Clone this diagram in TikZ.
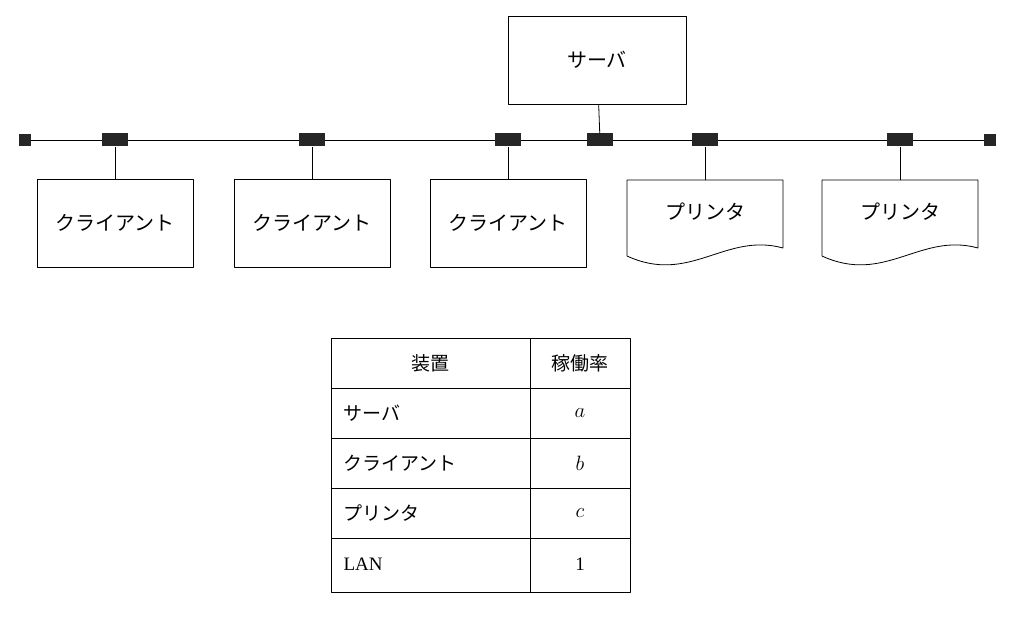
\documentclass[tikz,border=0pt]{standalone}
\usepackage{fontspec}
\setmainfont{Liberation Serif}
\newfontfamily\jp{Noto Sans CJK JP}
\begin{document}
\begin{tikzpicture}[x=1pt,y=-1pt,line join=bevel,
  box/.style={draw,thick,minimum width=156pt,minimum height=88pt,font=\jp\fontsize{20}{24}\selectfont},
  jack/.style={fill=black!85,minimum width=26pt,minimum height=13pt,inner sep=0pt},
  stub/.style={fill=black!85,minimum width=12pt,minimum height=12pt,inner sep=0pt},
  cell/.style={font=\jp\fontsize{19}{23}\selectfont}]
\useasboundingbox (0,0) rectangle (1021,623);
%% server and bus
\node (srv) at (597,60) [box,minimum width=178pt] {サーバ};
\node (endL) at (25,140) [stub] {};
\node (endR) at (990,140) [stub] {};
\draw [thick] (endL) -- (endR);
\foreach \n/\x in {j1/115,j2/312,j3/508,j4/600,j5/705,j6/900}
  \node (\n) at (\x,140) [jack] {};
\draw [thick] (srv) -- (j4);
%% clients
\node (c1) at (115,223) [box] {クライアント};
\node (c2) at (312,223) [box] {クライアント};
\node (c3) at (508,223) [box] {クライアント};
\foreach \j/\c in {j1/c1,j2/c2,j3/c3}
  \draw [thick] (\j) -- (\c);
%% printers
\foreach \n/\x in {p1/705,p2/900}{
  \coordinate (\n) at (\x,180);
  \draw [thick] (\x-78,180) -- (\x+78,180) -- (\x+78,248)
    .. controls (\x+20,232) and (\x-15,285) .. (\x-78,256) -- cycle;
  \node at (\x,212) [cell,font=\jp\fontsize{20}{24}\selectfont] {プリンタ};
}
\draw [thick] (j5) -- (p1);
\draw [thick] (j6) -- (p2);
%% table
\draw [thick] (331,338) rectangle (630,592);
\draw [thick] (530,338) -- (530,592);
\foreach \y in {388,438,488,538}
  \draw [thick] (331,\y) -- (630,\y);
\node (h1) at (430,363) [cell] {装置};
\node (h2) at (580,363) [cell] {稼働率};
\node (r1) at (340,413) [cell,anchor=west] {サーバ};
\node (r2) at (340,463) [cell,anchor=west] {クライアント};
\node (r3) at (340,513) [cell,anchor=west] {プリンタ};
\node (r4) at (340,564) [anchor=west,font=\fontsize{19}{23}\selectfont] {LAN};
\node (v1) at (580,413) [font=\fontsize{21}{23}\selectfont] {$a$};
\node (v2) at (580,463) [font=\fontsize{21}{23}\selectfont] {$b$};
\node (v3) at (580,513) [font=\fontsize{21}{23}\selectfont] {$c$};
\node (v4) at (580,564) [font=\fontsize{19}{23}\selectfont] {1};
%
\end{tikzpicture}
\end{document}
